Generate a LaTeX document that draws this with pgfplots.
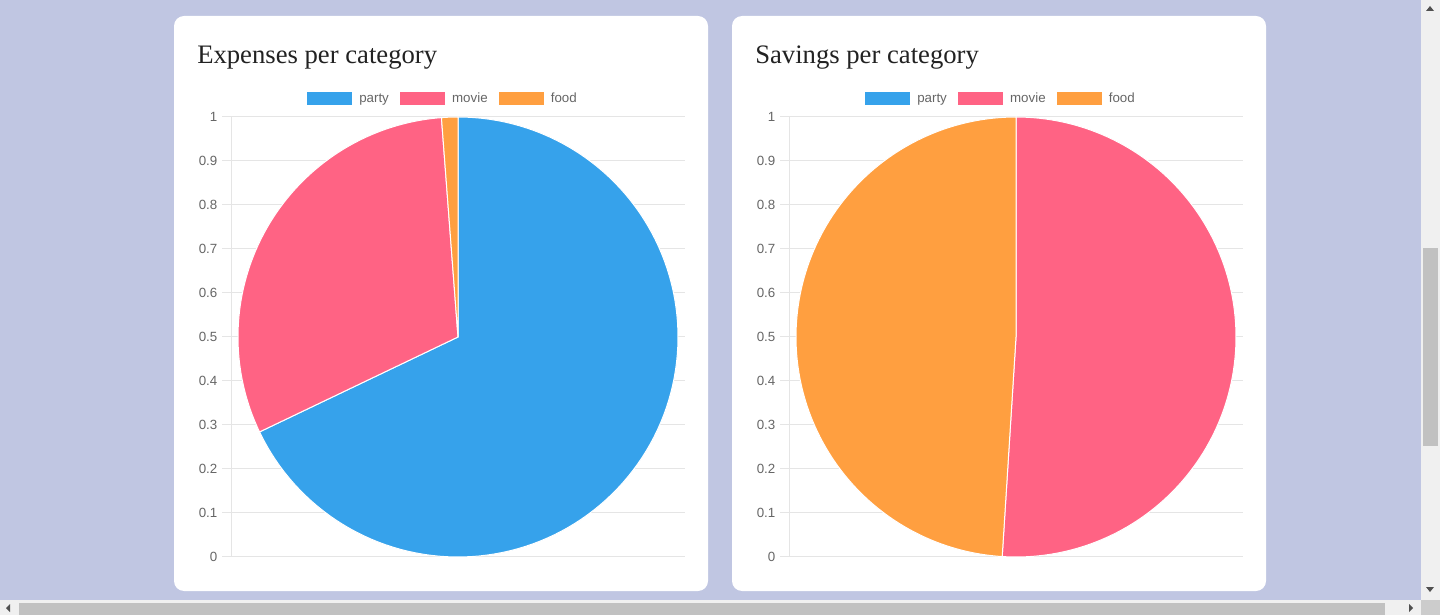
\documentclass[border=0pt]{standalone}
\usepackage{fontspec}
\setmainfont{Liberation Sans}
\newfontfamily\titlefont{Liberation Serif}
\usepackage{pgfplots}
\pgfplotsset{compat=1.18}
\definecolor{bg}{HTML}{C0C6E2}
\definecolor{pblue}{HTML}{36A2EB}
\definecolor{ppink}{HTML}{FF6384}
\definecolor{porange}{HTML}{FF9F40}
\definecolor{gridc}{HTML}{E5E5E5}
\definecolor{tickc}{HTML}{666666}
\definecolor{titlec}{HTML}{222222}
\definecolor{sbar}{HTML}{F0F0F0}
\definecolor{sthumb}{HTML}{C1C1C1}
\definecolor{sarrow}{HTML}{505050}

% data (fractions of each pie)
\def\ExpParty{0.679}\def\ExpMovie{0.309}\def\ExpFood{0.012}
\def\SavParty{0}\def\SavMovie{0.51}\def\SavFood{0.49}
\pgfmathsetmacro\eA{90-360*\ExpParty}
\pgfmathsetmacro\eB{\eA-360*\ExpMovie}
\pgfmathsetmacro\eC{\eB-360*\ExpFood}
\pgfmathsetmacro\sA{90-360*\SavParty}
\pgfmathsetmacro\sB{\sA-360*\SavMovie}
\pgfmathsetmacro\sC{\sB-360*\SavFood}

\pgfplotsset{
 piebase/.style={
   scale only axis, width=340.5pt, height=330pt,
   xmin=-0.515909, xmax=0.515909, ymin=0, ymax=1,
   axis x line=none, axis y line=left,
   axis line style={-, draw=gridc, line width=0.75pt},
   ytick={0,0.1,0.2,0.3,0.4,0.5,0.6,0.7,0.8,0.9,1},
   yticklabels={0,0.1,0.2,0.3,0.4,0.5,0.6,0.7,0.8,0.9,1},
   ymajorgrids, grid style={draw=gridc, line width=0.75pt},
   tick align=outside, major tick length=6.75pt,
   tick style={draw=gridc, line width=0.75pt},
   yticklabel style={font=\fontsize{10}{12}\selectfont, text=tickc},
   legend columns=3,
   legend style={at={(0.465,1)}, anchor=south, yshift=9pt, draw=none, fill=none,
     inner sep=0pt, font=\fontsize{10}{12}\selectfont, text=tickc,
     nodes={inner xsep=0pt, inner ysep=0pt, text height=7.2pt, text depth=1.8pt},
     /tikz/every odd column/.append style={column sep=5.5pt},
     /tikz/every even column/.append style={column sep=8.5pt}},
   legend image code/.code={\fill[##1] (0pt,-4.5pt) rectangle (33pt,4.5pt);},
   sector/.style={draw=white, line width=0.75pt, samples=120, forget plot},
 }
}

\begin{document}%
\begin{tikzpicture}
\begin{scope}[x=0.75pt, y=-0.75pt, yshift=461.25pt]
  \fill[bg] (0,0) rectangle (1440,615);
  \useasboundingbox (0,0) rectangle (1440,615);
  \fill[white, rounded corners=7.5pt] (174,16) rectangle (708,591);
  \fill[white, rounded corners=7.5pt] (732,16) rectangle (1266,591);
  % scrollbars
  \fill[sbar] (1421,0) rectangle (1440,615);
  \fill[sbar] (0,600) rectangle (1440,615);
  \fill[sthumb] (1423,248) rectangle (1438,446);
  \fill[sthumb] (19,603) rectangle (1385,615);
  \fill[gray!40] (1421,600) rectangle (1440,615);
  \fill[sarrow] (1426,11) -- (1434,11) -- (1430,6) -- cycle;
  \fill[sarrow] (1426,587) -- (1434,587) -- (1430,592) -- cycle;
  \fill[sarrow] (10,604) -- (10,612) -- (6,608) -- cycle;
  \fill[sarrow] (1409,604) -- (1409,612) -- (1413,608) -- cycle;
  % titles
  \node[anchor=base west, inner sep=0pt, text=titlec, font=\titlefont\fontsize{20}{24}\selectfont] at (197,63.5) {Expenses per category};
  \node[anchor=base west, inner sep=0pt, text=titlec, font=\titlefont\fontsize{20}{24}\selectfont] at (755,63.5) {Savings per category};
\end{scope}

\begin{axis}[piebase, at={(173.25pt,43.5pt)}, anchor=south west]
  \addlegendimage{fill=pblue, draw=pblue}\addlegendentry{party}
  \addlegendimage{fill=ppink, draw=ppink}\addlegendentry{movie}
  \addlegendimage{fill=porange, draw=porange}\addlegendentry{food}
  \addplot[sector, fill=pblue, domain=90:\eA] ({0.5*cos(x)},{0.5+0.5*sin(x)}) -- (axis cs:0,0.5) -- cycle;
  \addplot[sector, fill=ppink, domain=\eA:\eB] ({0.5*cos(x)},{0.5+0.5*sin(x)}) -- (axis cs:0,0.5) -- cycle;
  \addplot[sector, fill=porange, domain=\eB:\eC] ({0.5*cos(x)},{0.5+0.5*sin(x)}) -- (axis cs:0,0.5) -- cycle;
\end{axis}

\begin{axis}[piebase, at={(591.75pt,43.5pt)}, anchor=south west]
  \addlegendimage{fill=pblue, draw=pblue}\addlegendentry{party}
  \addlegendimage{fill=ppink, draw=ppink}\addlegendentry{movie}
  \addlegendimage{fill=porange, draw=porange}\addlegendentry{food}
  \addplot[sector, fill=ppink, domain=\sA:\sB] ({0.5*cos(x)},{0.5+0.5*sin(x)}) -- (axis cs:0,0.5) -- cycle;
  \addplot[sector, fill=porange, domain=\sB:\sC] ({0.5*cos(x)},{0.5+0.5*sin(x)}) -- (axis cs:0,0.5) -- cycle;
\end{axis}
\end{tikzpicture}%
\end{document}
